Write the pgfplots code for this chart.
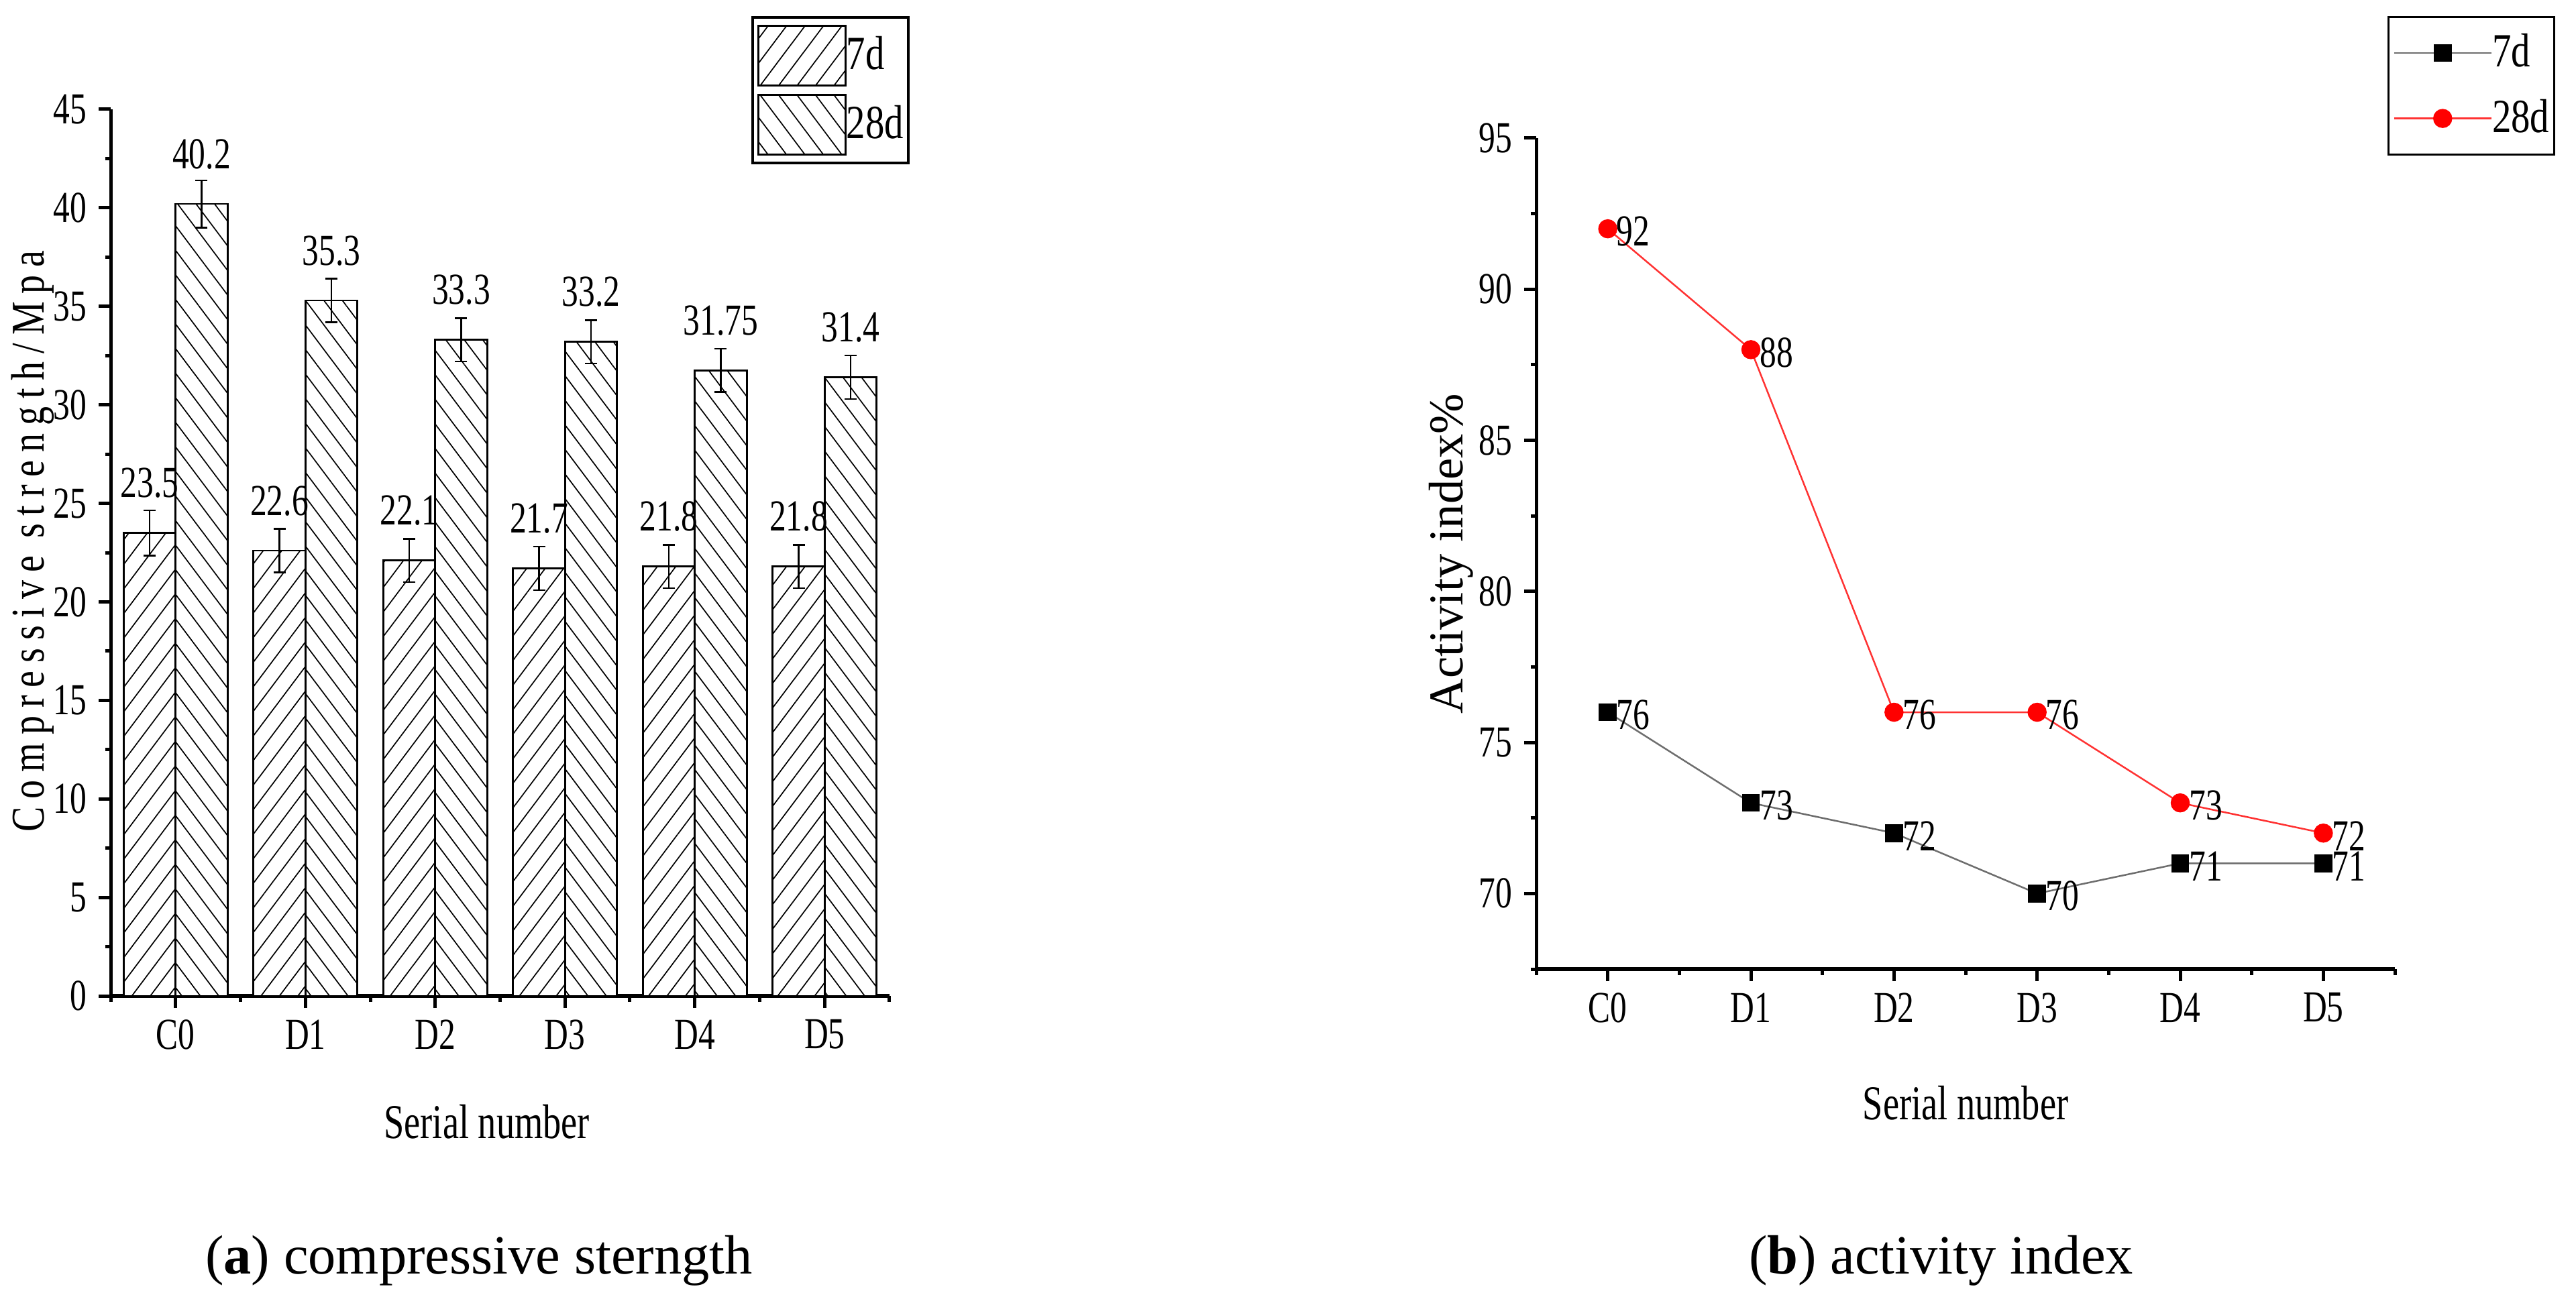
\documentclass[border=0pt]{standalone}
\usepackage{fontspec}
\setmainfont{Liberation Serif}
\newfontfamily\cond[FakeStretch=0.75]{Liberation Serif}
\newfontfamily\condl[FakeStretch=0.8]{Liberation Serif}
\newfontfamily\lsp[FakeStretch=0.8,LetterSpace=17]{Liberation Serif}
\usepackage{pgfplots}
\pgfplotsset{compat=1.18}
\usetikzlibrary{patterns.meta}
\definecolor{lgray}{RGB}{110,110,110}
\definecolor{lred}{RGB}{255,50,50}
\newcommand\tickf{\cond\fontsize{13.2pt}{15pt}\selectfont}
\newcommand\labf{\cond\fontsize{14.5pt}{17pt}\selectfont}
\newcommand\legf{\condl\fontsize{14.2pt}{16pt}\selectfont}
\newcommand\ylf{\lsp\fontsize{14pt}{16pt}\selectfont}
\newcommand\capf{\fontsize{16.5pt}{20pt}\selectfont}
\pgfplotsset{
  barleg/.style={legend image code/.code={\draw[##1] (0pt,-8.9pt) rectangle (26pt,8.9pt);}},
  mystyle/.style={
    scale only axis,
    axis x line*=bottom, axis y line*=left,
    x axis line style={line width=1.2pt},
    y axis line style={line width=1pt},
    tick align=outside,
    major tick length=3.6pt, minor tick length=1.7pt,
    every tick/.style={black, line width=1pt},
    xmin=-0.5, xmax=5.5,
    xtick={0,...,5}, xticklabels={C0,D1,D2,D3,D4,D5},
    minor xtick={-0.5,0.5,...,5.5},
    ticklabel style={font=\tickf},
    /pgf/number format/assume math mode=true,
    xlabel={Serial number},
    xlabel style={font=\labf, anchor=base},
    legend cell align=left,
  }
}
\begin{document}
\begin{tikzpicture}
\begin{axis}[mystyle,
  at={(33pt,89pt)}, anchor=south west, width=232.2pt, height=264.4pt,
  ymin=0, ymax=45, ytick={0,5,...,45}, minor ytick={2.5,7.5,...,42.5},
  xlabel style={at={(axis description cs:0.483,-0.161)}},
  ylabel={Compressive strength/Mpa},
  ylabel style={at={(axis description cs:-0.086,0.513)}, anchor=base, font=\ylf},
  legend style={at={(axis description cs:0.8226,1.1051)}, anchor=north west,
    draw=black, line width=0.8pt, font=\legf, inner xsep=1.4pt, inner ysep=2.2pt,
    row sep=2.2pt, nodes={inner sep=0pt},
    /tikz/every even column/.append style={column sep=2.6pt}},
  ybar, bar width=0.4,
  error bars/y dir=both, error bars/y explicit,
  error bars/error bar style={line width=0.5pt, black},
  error bars/error mark options={rotate=90, mark size=1.8pt, line width=0.5pt, black},
  nodes near coords,
  every node near coord/.append style={font=\tickf, text=black, anchor=south, inner sep=0pt, yshift=10.1pt},
]
\addplot[draw=black, line width=0.55pt, fill=white,
  postaction={pattern={Lines[angle=53.1,distance=4.4pt,line width=0.34pt]}},
  bar shift=-0.2, barleg] coordinates {
  (0,23.5) +- (0,1.15)
  (1,22.6) +- (0,1.1)
  (2,22.1) +- (0,1.1)
  (3,21.7) +- (0,1.1)
  (4,21.8) +- (0,1.1)
  (5,21.8) +- (0,1.1)
};
\addlegendentry{7d}
\addplot[draw=black, line width=0.55pt, fill=white,
  postaction={pattern={Lines[angle=-53.1,distance=4.4pt,line width=0.34pt]}},
  bar shift=0.2, barleg] coordinates {
  (0,40.2) +- (0,1.2)
  (1,35.3) +- (0,1.1)
  (2,33.3) +- (0,1.1)
  (3,33.2) +- (0,1.1)
  (4,31.75) +- (0,1.1)
  (5,31.4) +- (0,1.1)
};
\addlegendentry{28d}
\end{axis}

\begin{axis}[mystyle,
  at={(458pt,97pt)}, anchor=south west, width=256pt, height=247.8pt,
  ymin=67.5, ymax=95, ytick={70,75,...,95}, minor ytick={67.5,72.5,...,92.5},
  xlabel style={at={(axis description cs:0.5,-0.181)}},
  ylabel={Activity index\%},
  ylabel style={at={(axis description cs:-0.0852,0.5)}, anchor=base, font=\fontsize{14.5pt}{17pt}\selectfont},
  legend style={at={(axis description cs:0.9914,1.1469)}, anchor=north west,
    draw=black, line width=0.6pt, font=\legf, inner xsep=1.4pt, inner ysep=5pt,
    row sep=8.2pt, nodes={inner sep=0pt},
    /tikz/every even column/.append style={column sep=2.2pt}},
  legend image code/.code={\draw[mark repeat=2,mark phase=2,#1] plot coordinates {(0pt,0pt) (14.5pt,0pt) (29pt,0pt)};},
  nodes near coords,
  every node near coord/.append style={font=\tickf, text=black, anchor=west, inner sep=0pt, xshift=2.4pt, yshift=-0.8pt},
]
\addplot[color=lgray, line width=0.5pt, mark=square*, mark size=2.4pt,
  mark options={fill=black, draw=black}] coordinates {
  (0,76) (1,73) (2,72) (3,70) (4,71) (5,71)
};
\addlegendentry{7d}
\addplot[color=lred, line width=0.5pt, mark=*, mark size=2.6pt,
  mark options={fill=red, draw=red}] coordinates {
  (0,92) (1,88) (2,76) (3,76) (4,73) (5,72)
};
\addlegendentry{28d}
\end{axis}

\node[anchor=base] at (142.8pt,6.2pt) {\capf(\textbf{a}) compressive sterngth};
\node[anchor=base] at (578.7pt,6.2pt) {\capf(\textbf{b}) activity index};
\pgfresetboundingbox
\useasboundingbox (0,0) rectangle (768pt,386pt);
\end{tikzpicture}
\end{document}
